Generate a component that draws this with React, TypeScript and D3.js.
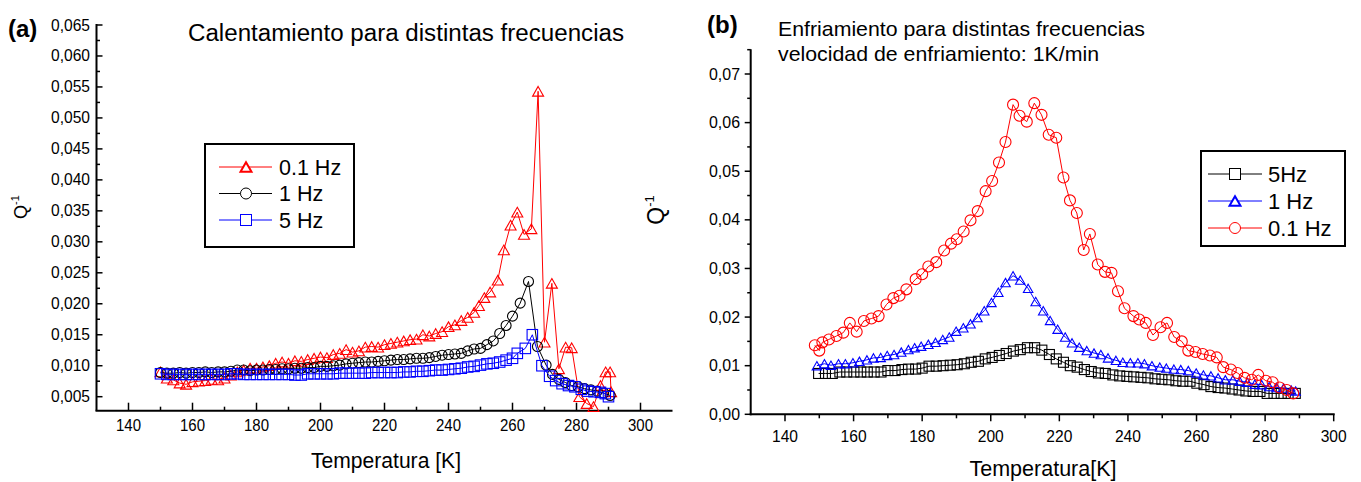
import React from "react";
import * as d3 from "d3";

// ---------- Panel (a): heating ----------
const aRedT = [150,152,154,156,158,160,162,164,166,168,170,172,174,176,178,180,182,184,186,188,190,192,194,196,198,200,202,204,206,208,210,212,214,216,218,220,222,224,226,228,230,232,234,236,238,240,242,244,246,248,249.5,251.2,253,255.4,257.3,259.4,261.5,263.6,265.9,268,270,272.3,274.5,276.6,278.5,280.9,283.2,285.3,287.5,289.1,290.5,290.8];
const aRedQ = [0.0090,0.0080,0.0077,0.0072,0.0070,0.0074,0.0075,0.0076,0.0078,0.0077,0.0080,0.0085,0.0090,0.0093,0.0096,0.0096,0.0098,0.0100,0.0104,0.0106,0.0104,0.0108,0.0107,0.0110,0.0112,0.0114,0.0113,0.0118,0.0120,0.0126,0.0122,0.0124,0.0130,0.0131,0.0130,0.0134,0.0136,0.0138,0.0140,0.0142,0.0143,0.0150,0.0148,0.0152,0.0155,0.0163,0.0166,0.0173,0.0178,0.0186,0.0197,0.0210,0.0219,0.0238,0.0287,0.0327,0.0348,0.0312,0.0321,0.0543,0.0138,0.0233,0.0095,0.0130,0.0129,0.0050,0.0039,0.0034,0.0068,0.0090,0.0090,0.0058];

const aBlackT = [150,152,154,156,158,160,162,164,166,168,170,172,174,176,178,180,182,184,186,188,190,192,194,196,198,200,202,204,206,208,210,212,214,216,218,220,222,224,226,228,230,232,234,236,238,240,242,244,246,248,250,252,254,256,258,260,262.4,265,267.8,270.5,272.5,274.5,276.5,278.5,280.5,282.5,284.5,286.5,288.5,290.5];
const aBlackQ = [0.0089,0.0088,0.0088,0.0089,0.0088,0.0089,0.0089,0.0090,0.0089,0.0090,0.0090,0.0091,0.0093,0.0093,0.0092,0.0093,0.0093,0.0094,0.0094,0.0095,0.0095,0.0096,0.0096,0.0097,0.0097,0.0099,0.0099,0.0100,0.0101,0.0103,0.0104,0.0105,0.0106,0.0106,0.0107,0.0108,0.0109,0.0110,0.0110,0.0111,0.0112,0.0112,0.0113,0.0115,0.0117,0.0118,0.0119,0.0120,0.0124,0.0127,0.0128,0.0134,0.0140,0.0152,0.0165,0.0180,0.0201,0.0236,0.0131,0.0101,0.0086,0.0078,0.0073,0.0068,0.0066,0.0063,0.0061,0.0059,0.0056,0.0052];

const aBlueT = [150,152,154,156,158,160,162,164,166,168,170,172,174,176,178,180,182,184,186,188,190,192,194,196,198,200,202,204,206,208,210,212,214,216,218,220,222,224,226,228,230,232,234,236,238,240,242,244,246,248,250,252,254,256,258,260,261.5,264,266.2,269.2,271.6,273.5,275.5,277.5,279.5,281.5,283.5,285.5,287.5,289,290];
const aBlueQ = [0.0087,0.0086,0.0086,0.0086,0.0086,0.0086,0.0086,0.0086,0.0086,0.0086,0.0086,0.0087,0.0087,0.0086,0.0086,0.0086,0.0086,0.0086,0.0086,0.0086,0.0086,0.0085,0.0085,0.0087,0.0087,0.0087,0.0087,0.0087,0.0088,0.0088,0.0088,0.0088,0.0088,0.0089,0.0089,0.0089,0.0089,0.0089,0.0090,0.0090,0.0091,0.0091,0.0092,0.0093,0.0093,0.0094,0.0095,0.0096,0.0098,0.0099,0.0101,0.0103,0.0104,0.0106,0.0109,0.0112,0.0120,0.0128,0.0150,0.0100,0.0083,0.0076,0.0071,0.0068,0.0066,0.0062,0.0059,0.0058,0.0057,0.0055,0.0050];

// ---------- Panel (b): cooling ----------
const bRedT = [148.7,150,150.9,152.8,155,157,158.9,160.9,163,165.2,167.3,169.6,171.6,173.4,175.4,178.1,180,181.8,184.1,186.4,188.4,190.1,192.1,194.1,196.2,198.5,200.4,202.4,204.3,206.5,208.4,210.5,212.7,214.8,216.9,219.1,221.2,223.1,225.1,227.1,228.9,231.2,233.3,235.2,237.1,239,241.6,243.3,245.2,247.3,249.5,251.4,253.5,255.7,257.6,259.7,261.8,263.9,265.9,267.8,270,271.9,274,276.1,278,280.2,282.2,284.2,286.3,288.2];
const bRedQ = [0.0142,0.0131,0.0148,0.0154,0.0161,0.0168,0.0188,0.0170,0.0192,0.0197,0.0202,0.0226,0.0239,0.0244,0.0257,0.0278,0.0288,0.0304,0.0313,0.0337,0.0351,0.0360,0.0376,0.0399,0.0418,0.0459,0.0480,0.0518,0.0560,0.0637,0.0614,0.0602,0.0640,0.0616,0.0575,0.0569,0.0487,0.0440,0.0414,0.0338,0.0371,0.0308,0.0293,0.0291,0.0253,0.0218,0.0202,0.0195,0.0188,0.0163,0.0179,0.0188,0.0159,0.0150,0.0131,0.0128,0.0124,0.0121,0.0117,0.0097,0.0092,0.0085,0.0075,0.0071,0.0081,0.0069,0.0066,0.0055,0.0050,0.0043];

const bBlueT = [149.3,151.5,153.4,155.6,157.6,159.8,161.7,163.9,165.8,167.9,169.8,171.8,173.9,176,177.8,179.7,181.8,183.9,186,187.9,189.9,192,194.1,196.1,198.1,200.2,202.2,204.3,206.5,208.6,210.9,213.1,215.3,217.3,219.5,221.7,223.7,225.8,228,230.1,232.1,234.2,236.5,238.5,240.7,242.9,244.8,247,249.3,251.2,253.4,255.4,257.6,259.9,262,264.2,266.3,268.4,270.6,272.6,274.8,277,279,281.2,283.4,285.4,287.6,288.9];
const bBlueQ = [0.0100,0.0104,0.0101,0.0104,0.0104,0.0106,0.0109,0.0112,0.0116,0.0117,0.0121,0.0123,0.0128,0.0133,0.0137,0.0140,0.0144,0.0148,0.0154,0.0159,0.0171,0.0178,0.0186,0.0199,0.0213,0.0230,0.0251,0.0271,0.0285,0.0276,0.0259,0.0232,0.0213,0.0193,0.0175,0.0159,0.0147,0.0138,0.0131,0.0126,0.0123,0.0116,0.0111,0.0107,0.0106,0.0106,0.0104,0.0100,0.0097,0.0095,0.0093,0.0092,0.0090,0.0085,0.0081,0.0079,0.0075,0.0071,0.0071,0.0068,0.0066,0.0062,0.0061,0.0057,0.0055,0.0054,0.0050,0.0048];

const bBlackT = [149.8,151.8,153.8,156,158,160.1,162.1,164,166,168,170,172.1,174.1,176,178.1,180,182,184.1,186.1,188.2,190.2,192.3,194.3,196.4,198.4,200.4,202.5,204.5,206.6,208.6,210.7,212.8,214.9,217.1,219.1,221.2,223.2,225.2,227.3,229.3,231.4,233.4,235.6,237.6,239.7,241.7,243.8,245.8,247.9,249.9,251.9,254,256,258.1,260.1,262.2,264.2,266.3,268.3,270.4,272.4,274.4,276.5,278.5,280.6,282.6,284.7,286.7,288.8];
const bBlackQ = [0.0084,0.0084,0.0084,0.0087,0.0087,0.0087,0.0087,0.0087,0.0087,0.0087,0.0090,0.0090,0.0092,0.0093,0.0093,0.0095,0.0099,0.0099,0.0100,0.0101,0.0102,0.0104,0.0107,0.0109,0.0114,0.0117,0.0121,0.0125,0.0130,0.0133,0.0137,0.0137,0.0132,0.0123,0.0114,0.0107,0.0100,0.0097,0.0092,0.0088,0.0085,0.0084,0.0081,0.0079,0.0078,0.0077,0.0076,0.0075,0.0073,0.0072,0.0071,0.0069,0.0068,0.0068,0.0064,0.0061,0.0057,0.0055,0.0054,0.0052,0.0050,0.0048,0.0047,0.0047,0.0043,0.0043,0.0043,0.0043,0.0043];

const xTicks = [140,160,180,200,220,240,260,280,300];
const xMinor = [150,170,190,210,230,250,270,290];
const aYTicks = [0.005,0.010,0.015,0.020,0.025,0.030,0.035,0.040,0.045,0.050,0.055,0.060,0.065];
const bYTicks = [0,0.01,0.02,0.03,0.04,0.05,0.06,0.07];

const FONT = "'Liberation Sans', Arial, Helvetica, sans-serif";
const RED = "#ff0000";
const BLUE = "#0000ff";
const BLACK = "#000000";

type Shape = "tri" | "circ" | "sq";

function Marker({ shape, x, y, s, color, sw = 1, fill = "none" }: { shape: Shape; x: number; y: number; s: number; color: string; sw?: number; fill?: string }) {
  if (shape === "circ") return <circle cx={x} cy={y} r={s / 2} fill={fill} stroke={color} strokeWidth={sw} />;
  if (shape === "sq") return <rect x={x - s / 2} y={y - s / 2} width={s} height={s} fill={fill} stroke={color} strokeWidth={sw} />;
  const h = s * 0.88;
  return <path d={`M${x},${y - h / 2}L${x + s / 2},${y + h / 2}L${x - s / 2},${y + h / 2}Z`} fill={fill} stroke={color} strokeWidth={sw} />;
}

function Series({ T, Q, x, y, shape, color, s }: { T: number[]; Q: number[]; x: d3.ScaleLinear<number, number>; y: d3.ScaleLinear<number, number>; shape: Shape; color: string; s: number }) {
  const pts: [number, number][] = T.map((t, i) => [x(t), y(Q[i])]);
  const line = d3.line()(pts) || "";
  return (
    <g>
      <path d={line} fill="none" stroke={color} strokeWidth={1} />
      {pts.map((p, i) => (
        <Marker key={i} shape={shape} x={p[0]} y={p[1]} s={s} color={color} sw={1.1} />
      ))}
    </g>
  );
}

const fmt3 = (v: number) => d3.format(".3f")(v).replace(".", ",");
const fmt2 = (v: number) => d3.format(".2f")(v).replace(".", ",");

export default function App() {
  // Panel (a) scales
  const ax = d3.scaleLinear().domain([130, 310]).range([96.5, 672.5]);
  const ay = d3.scaleLinear().domain([0.005, 0.065]).range([396.7, 25]);
  const aBottom = 410.7;
  const aYMinor = d3.range(0.0075, 0.065, 0.005);

  // Panel (b) scales
  const bx = d3.scaleLinear().domain([130, 300]).range([750.7, 1333.7]);
  const by = d3.scaleLinear().domain([0, 0.07]).range([414.3, 74]);
  const bTop = by(0.0751);
  const bYMinor = d3.range(0.005, 0.076, 0.01);

  const legA = [
    { label: "0.1 Hz", shape: "tri" as Shape, color: RED },
    { label: "1 Hz", shape: "circ" as Shape, color: BLACK },
    { label: "5 Hz", shape: "sq" as Shape, color: BLUE },
  ];
  const legB = [
    { label: "5Hz", shape: "sq" as Shape, color: BLACK },
    { label: "1 Hz", shape: "tri" as Shape, color: BLUE },
    { label: "0.1 Hz", shape: "circ" as Shape, color: RED },
  ];

  return (
    <svg width={1361} height={482} style={{ position: "absolute", left: 0, top: 0, background: "#fff" }} fontFamily={FONT}>
      <rect x={0} y={0} width={1361} height={482} fill="#fff" />
      {/* ===== Panel (a) ===== */}
      <text x={8} y={37} fontSize={24} fontWeight="bold">(a)</text>
      <text x={406} y={41} fontSize={23} textAnchor="middle" textLength={436} lengthAdjust="spacingAndGlyphs">Calentamiento para distintas frecuencias</text>
      {/* axes */}
      <line x1={ax(130)} x2={ax(130)} y1={ay(0.065) - 1} y2={aBottom} stroke="#000" strokeWidth={2} />
      <line x1={ax(130) - 1} x2={ax(310)} y1={aBottom} y2={aBottom} stroke="#000" strokeWidth={2} />
      {aYTicks.map((v) => (
        <g key={"ay" + v}>
          <line x1={ax(130)} x2={ax(130) + 6} y1={ay(v)} y2={ay(v)} stroke="#000" strokeWidth={1.5} />
          <text x={90} y={ay(v) + 5.5} fontSize={16} textAnchor="end" textLength={39} lengthAdjust="spacingAndGlyphs">{fmt3(v)}</text>
        </g>
      ))}
      {aYMinor.map((v) => (
        <line key={"aym" + v} x1={ax(130)} x2={ax(130) + 3.5} y1={ay(v)} y2={ay(v)} stroke="#000" strokeWidth={1.5} />
      ))}
      {xTicks.map((t) => (
        <g key={"ax" + t}>
          <line x1={ax(t)} x2={ax(t)} y1={aBottom} y2={aBottom - 8} stroke="#000" strokeWidth={1.5} />
          <text x={ax(t)} y={431} fontSize={16} textAnchor="middle" textLength={25} lengthAdjust="spacingAndGlyphs">{t}</text>
        </g>
      ))}
      {xMinor.map((t) => (
        <line key={"axm" + t} x1={ax(t)} x2={ax(t)} y1={aBottom} y2={aBottom - 4} stroke="#000" strokeWidth={1.5} />
      ))}
      <text x={386} y={468} fontSize={21.5} textAnchor="middle" textLength={150} lengthAdjust="spacingAndGlyphs">Temperatura [K]</text>
      <text transform="translate(27,207) rotate(-90)" fontSize={18} textAnchor="middle">
        Q<tspan fontSize={11} dy={-8}>-1</tspan>
      </text>
      <Series T={aRedT} Q={aRedQ} x={ax} y={ay} shape="tri" color={RED} s={11} />
      <Series T={aBlackT} Q={aBlackQ} x={ax} y={ay} shape="circ" color={BLACK} s={10} />
      <Series T={aBlueT} Q={aBlueQ} x={ax} y={ay} shape="sq" color={BLUE} s={10.5} />
      {/* legend (a) */}
      <rect x={205} y={144} width={149} height={103} fill="#fff" stroke="#000" strokeWidth={2} />
      {legA.map((l, i) => {
        const yy = 167 + i * 26.5;
        return (
          <g key={"la" + i}>
            <line x1={219} x2={272} y1={yy} y2={yy} stroke={l.color} strokeWidth={1} />
            <Marker shape={l.shape} x={246} y={yy} s={11} color={l.color} sw={l.shape === "tri" ? 2 : 1} fill="#fff" />
            <text x={279} y={yy + 7.5} fontSize={21.5}>{l.label}</text>
          </g>
        );
      })}

      {/* ===== Panel (b) ===== */}
      <text x={707} y={33} fontSize={24} fontWeight="bold">(b)</text>
      <text x={778} y={36} fontSize={21} textLength={367} lengthAdjust="spacingAndGlyphs">Enfriamiento para distintas frecuencias</text>
      <text x={778} y={61} fontSize={21} textLength={321} lengthAdjust="spacingAndGlyphs">velocidad de enfriamiento: 1K/min</text>
      <line x1={bx(130)} x2={bx(130)} y1={bTop} y2={by(0) + 1} stroke="#000" strokeWidth={2} />
      <line x1={bx(130) - 1} x2={bx(300) + 1} y1={by(0)} y2={by(0)} stroke="#000" strokeWidth={2} />
      {bYTicks.map((v) => (
        <g key={"by" + v}>
          <line x1={bx(130)} x2={bx(130) - 6} y1={by(v)} y2={by(v)} stroke="#000" strokeWidth={1.5} />
          <text x={740} y={by(v) + 5.5} fontSize={16} textAnchor="end" textLength={31} lengthAdjust="spacingAndGlyphs">{fmt2(v)}</text>
        </g>
      ))}
      {bYMinor.map((v) => (
        <line key={"bym" + v} x1={bx(130)} x2={bx(130) - 3.5} y1={by(v)} y2={by(v)} stroke="#000" strokeWidth={1.5} />
      ))}
      {xTicks.map((t) => (
        <g key={"bx" + t}>
          <line x1={bx(t)} x2={bx(t)} y1={by(0)} y2={by(0) + 7} stroke="#000" strokeWidth={1.5} />
          <text x={bx(t)} y={442} fontSize={16} textAnchor="middle" textLength={26} lengthAdjust="spacingAndGlyphs">{t}</text>
        </g>
      ))}
      {xMinor.map((t) => (
        <line key={"bxm" + t} x1={bx(t)} x2={bx(t)} y1={by(0)} y2={by(0) + 4} stroke="#000" strokeWidth={1.5} />
      ))}
      <text x={1043} y={476} fontSize={22} textAnchor="middle" textLength={147} lengthAdjust="spacingAndGlyphs">Temperatura[K]</text>
      <text transform="translate(664,210) rotate(-90)" fontSize={23} textAnchor="middle">
        Q<tspan fontSize={13} dy={-10}>-1</tspan>
      </text>
      <Series T={bBlackT} Q={bBlackQ} x={bx} y={by} shape="sq" color={BLACK} s={10} />
      <Series T={bBlueT} Q={bBlueQ} x={bx} y={by} shape="tri" color={BLUE} s={9.5} />
      <Series T={bRedT} Q={bRedQ} x={bx} y={by} shape="circ" color={RED} s={11} />
      {/* legend (b) */}
      <rect x={1201} y={151} width={144} height={95} fill="#fff" stroke="#000" strokeWidth={2} />
      {legB.map((l, i) => {
        const yy = 174 + i * 27;
        return (
          <g key={"lb" + i}>
            <line x1={1208} x2={1262} y1={yy} y2={yy} stroke={l.color} strokeWidth={1} />
            <Marker shape={l.shape} x={1235} y={yy} s={11} color={l.color} sw={l.shape === "tri" ? 2 : 1} fill="#fff" />
            <text x={1268} y={yy + 7.5} fontSize={22}>{l.label}</text>
          </g>
        );
      })}
    </svg>
  );
}
